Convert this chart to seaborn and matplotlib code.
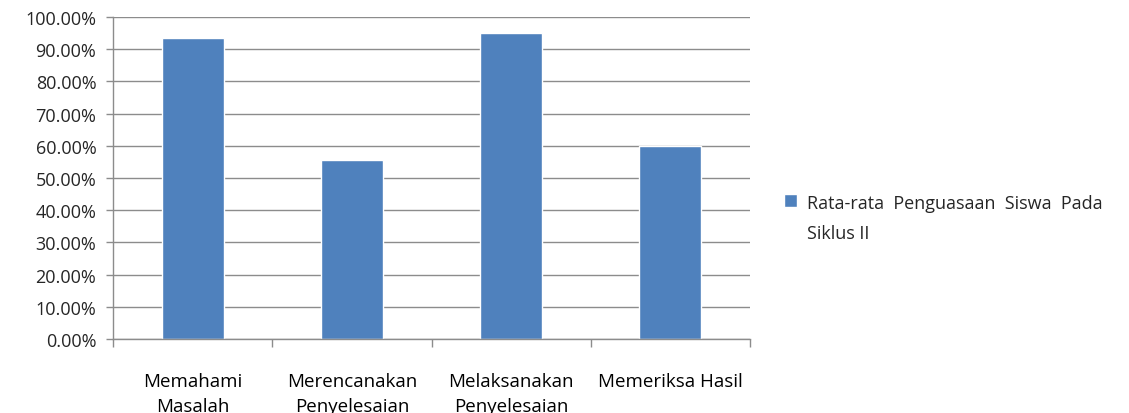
import matplotlib.pyplot as plt
import seaborn as sns
import pandas as pd
from matplotlib.ticker import FixedLocator, PercentFormatter

categories = ["Memahami\nMasalah", "Merencanakan\nPenyelesaian",
              "Melaksanakan\nPenyelesaian", "Memeriksa Hasil"]
values = [93.33, 55.56, 95.00, 60.00]
series_name = "Rata-rata  Penguasaan  Siswa  Pada\nSiklus II"

df = pd.DataFrame({"kategori": categories, "nilai": values, "seri": series_name})

sns.set_style("white")
plt.rcParams["font.family"] = ["Open Sans", "DejaVu Sans"]

fig = plt.figure(figsize=(11.29, 4.14), dpi=100)
ax = fig.add_axes([113 / 1129, 1 - 340 / 414, (750 - 113) / 1129, (340 - 18) / 414])

sns.barplot(data=df, x="kategori", y="nilai", hue="seri", palette=["#4F81BD"],
            saturation=1, width=0.39, ax=ax, legend=True)

ax.set_ylim(0, 100)
ax.set_xlim(-0.5, 3.5)
ax.yaxis.set_major_locator(FixedLocator(range(0, 101, 10)))
ax.yaxis.set_major_formatter(PercentFormatter(decimals=2))
ax.grid(axis="y", color="#8c8c8c", linewidth=1)
ax.set_axisbelow(True)
ax.set_xlabel("")
ax.set_ylabel("")

for side in ["top", "right"]:
    ax.spines[side].set_visible(False)
for side in ["left", "bottom"]:
    ax.spines[side].set_color("#8c8c8c")
    ax.spines[side].set_linewidth(1)

# Excel style: ticks between categories, labels centred below
ax.xaxis.set_minor_locator(FixedLocator([-0.5, 0.5, 1.5, 2.5, 3.5]))
ax.tick_params(axis="x", which="minor", bottom=True, length=6, color="#8c8c8c", width=1, direction="out")
ax.tick_params(axis="x", which="major", bottom=False, length=0, pad=24, labelsize=13.5, colors="black")
ax.tick_params(axis="y", left=True, length=5, color="#8c8c8c", width=1, direction="out", labelsize=13, pad=7)
for lbl in ax.get_xticklabels():
    lbl.set_linespacing(1.45)

leg = ax.legend(loc="center left", bbox_to_anchor=(0.68, 0.47), bbox_transform=fig.transFigure,
                frameon=False, fontsize=13, handlelength=0.7, handleheight=0.7,
                handletextpad=0.55, labelspacing=0.3)
for t in leg.get_texts():
    t.set_linespacing(1.85)
# put the marker next to the first line of the label, as in Excel
for col in leg._legend_handle_box.get_children():
    for row in col.get_children():
        row.align = "top"

plt.savefig("out.png", dpi=100)
plt.close()
